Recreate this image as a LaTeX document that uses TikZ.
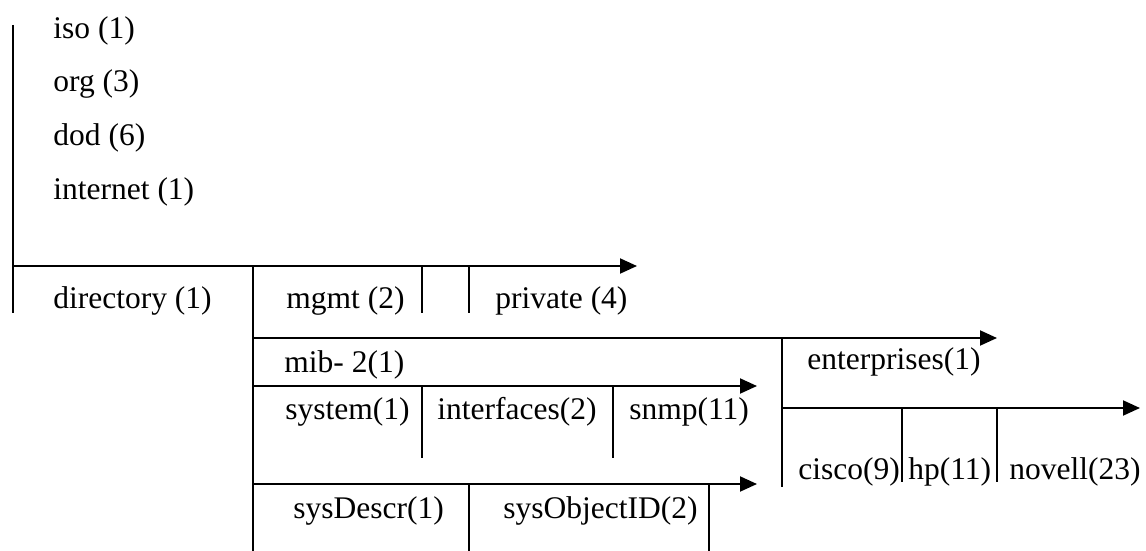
\documentclass[tikz,border=0pt]{standalone}
\usepackage{fontspec}
\setmainfont{Liberation Serif}
\usetikzlibrary{arrows.meta}
\tikzset{
>={Triangle[length=8.5pt,width=7.5pt]},
  oid/.style={
    anchor=base west,
    inner sep=0pt,
    font=\fontsize{15.75}{18}\selectfont},
  rule/.style={draw, line width=1pt},
  branch/.style={rule, ->},
}

\begin{document}
\begin{tikzpicture}[x=0.5pt,y=-0.5pt]
	\useasboundingbox (0,0) rectangle (1146,551);

	% the path down from the root
	\node[oid] (iso) at (53,39) {iso (1)};
	\node[oid] (org) at (53,92) {org (3)};
	\node[oid] (dod) at (53,146) {dod (6)};
	\node[oid] (internet) at (53,199) {internet (1)};

	% internet subtree
	\draw[branch] (13,266) -- (637,266);
	\draw[rule] (13,25) -- (13,313);
	\draw[rule] (253,266) -- (253,551);
	\draw[rule] (422,266) -- (422,313);
	\draw[rule] (469,266) -- (469,313);
	\node[oid] (directory) at (53,308) {directory (1)};
	\node[oid] (mgmt) at (286,308) {mgmt (2)};
	\node[oid] (private) at (495,308) {private (4)};

	% mgmt and private
	\draw[branch] (253,338) -- (997,338);
	\draw[rule] (782,338) -- (782,487);
	\node[oid] (mib) at (284,372) {mib- 2(1)};
	\node[oid] (enterprises) at (807,369) {enterprises(1)};

	% mib-2 groups
	\draw[branch] (253,386) -- (757,386);
	\draw[rule] (422,386) -- (422,458);
	\draw[rule] (613,386) -- (613,458);
	\node[oid] (system) at (285,419) {system(1)};
	\node[oid] (interfaces) at (437,419) {interfaces(2)};
	\node[oid] (snmp) at (629,419) {snmp(11)};

	% system group
	\draw[branch] (253,484) -- (757,484);
	\draw[rule] (469,484) -- (469,551);
	\draw[rule] (709,484) -- (709,551);
	\node[oid] (sysdescr) at (293,518) {sysDescr(1)};
	\node[oid] (sysobjectid) at (503,518) {sysObjectID(2)};

	% vendors
	\draw[branch] (782,408) -- (1140,408);
	\draw[rule] (902,408) -- (902,482);
	\draw[rule] (997,408) -- (997,482);
	\node[oid] (cisco) at (798,479) {cisco(9)};
	\node[oid] (hp) at (908,479) {hp(11)};
	\node[oid] (novell) at (1009,479) {novell(23)};
\end{tikzpicture}
\end{document}
